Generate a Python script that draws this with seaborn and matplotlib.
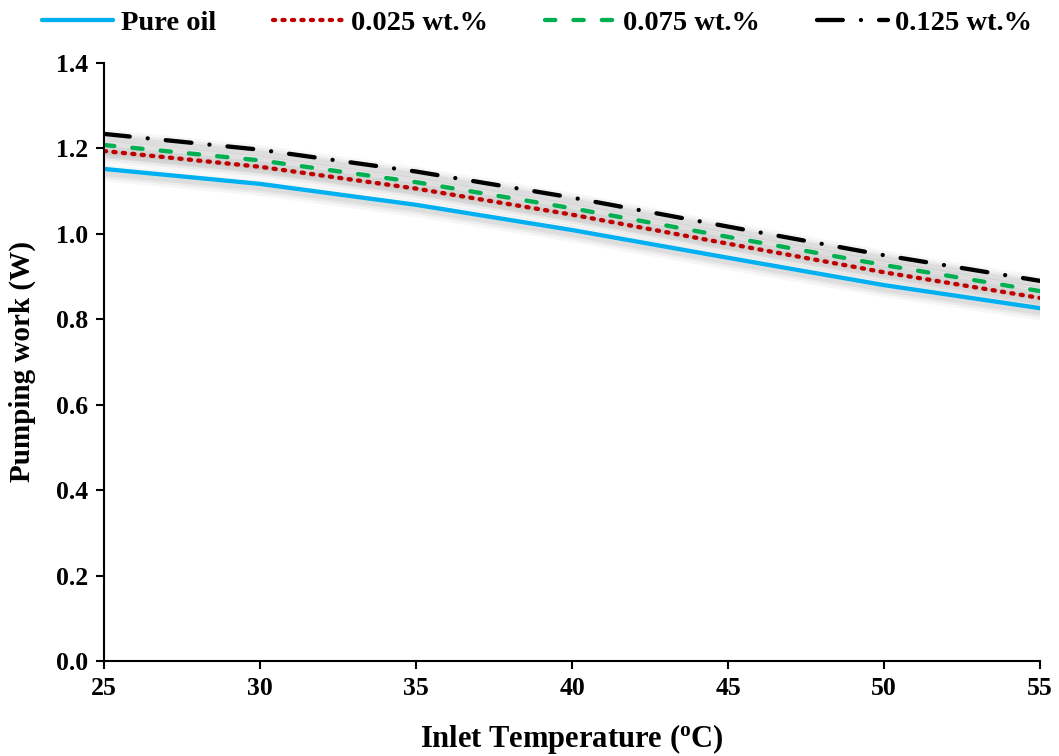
import matplotlib
matplotlib.use("Agg")
import matplotlib.pyplot as plt
import matplotlib.transforms as mtransforms
import seaborn as sns
import pandas as pd

temps = [25, 30, 35, 40, 45, 50, 55]
pure_oil = [1.152, 1.117, 1.068, 1.009, 0.944, 0.880, 0.826]
wt_0025 = [1.194, 1.157, 1.106, 1.045, 0.977, 0.910, 0.850]
wt_0075 = [1.208, 1.172, 1.121, 1.060, 0.993, 0.927, 0.866]
wt_0125 = [1.234, 1.197, 1.146, 1.085, 1.017, 0.950, 0.890]
labels = ["Pure oil", "0.025 wt.%", "0.075 wt.%", "0.125 wt.%"]
yticks = [0.0, 0.2, 0.4, 0.6, 0.8, 1.0, 1.2, 1.4]

sns.set_theme(style="white")
plt.rcParams['font.family'] = ['Liberation Serif', 'DejaVu Serif']
plt.rcParams['font.weight'] = 'bold'
for k in ['text.color', 'axes.labelcolor', 'xtick.color', 'ytick.color', 'axes.edgecolor']:
    plt.rcParams[k] = 'black'

fig = plt.figure(figsize=(10.59, 7.56), dpi=100)
ax = fig.add_axes([104/1059, 1 - 661/756, (1040-104)/1059, (661-63)/756])

series = [pure_oil, wt_0025, wt_0075, wt_0125]
colors = ["#00B0F0", "#C00000", "#00B050", "#000000"]
styles = [dict(linestyle="-"),
          dict(linestyle=(0, (0.5, 1.7)), dash_capstyle="round"),
          dict(linestyle=(0, (2.4, 4.2)), dash_capstyle="round"),
          dict(linestyle=(0, (6.0, 4.2, 0.01, 4.2)), dash_capstyle="round")]

# soft drop shadows (solid, offset down-right)
shadow_tf = ax.transData + mtransforms.ScaledTranslation(1.5/100, -4/100, fig.dpi_scale_trans)
for vals in series:
    df = pd.DataFrame({"T": temps, "W": vals})
    for lw, a in [(12, 0.035), (8, 0.045), (4.5, 0.06)]:
        n0 = len(ax.lines)
        sns.lineplot(data=df, x="T", y="W", ax=ax, color="black", linewidth=lw,
                     alpha=a, legend=False, solid_capstyle="butt")
        for ln in ax.lines[n0:]:
            ln.set_transform(shadow_tf)
            ln.set_label("_nolegend_")

for vals, lab, col, st in zip(series, labels, colors, styles):
    df = pd.DataFrame({"T": temps, "W": vals})
    sns.lineplot(data=df, x="T", y="W", ax=ax, color=col, linewidth=3.1, label=lab, **st)

ax.set_xlim(25, 55)
ax.set_ylim(0, 1.4)
ax.set_xticks(range(25, 56, 5))
ax.set_yticks(yticks)
ax.set_yticklabels([f"{v:.1f}" for v in yticks])
for s in ["top", "right"]:
    ax.spines[s].set_visible(False)
for s in ["left", "bottom"]:
    ax.spines[s].set_color("black")
    ax.spines[s].set_linewidth(1.5)
    ax.spines[s].set_zorder(5)
ax.tick_params(axis="both", which="major", direction="out", length=5.5, width=1.5,
               color="black", labelcolor="black", labelsize=18.5, pad=6, bottom=True, left=True)
for t in ax.get_xticklabels() + ax.get_yticklabels():
    t.set_fontweight("bold")
ax.set_xlabel("Inlet Temperature ($\\mathregular{^o}$C)", fontsize=22, fontweight="bold",
              labelpad=16, color="black")
ax.set_ylabel("Pumping work (W)", fontsize=21, fontweight="bold", labelpad=14, color="black")

leg = ax.legend(loc="center", bbox_to_anchor=(0.463, 1 + 40/598), ncol=4, frameon=False,
                prop={"family": "Liberation Serif", "weight": "bold", "size": 20.5},
                handlelength=2.5, columnspacing=2.0, handletextpad=0.25, borderaxespad=0.0,
                borderpad=0.0, labelcolor="black")

fig.savefig("out.png", dpi=100)
